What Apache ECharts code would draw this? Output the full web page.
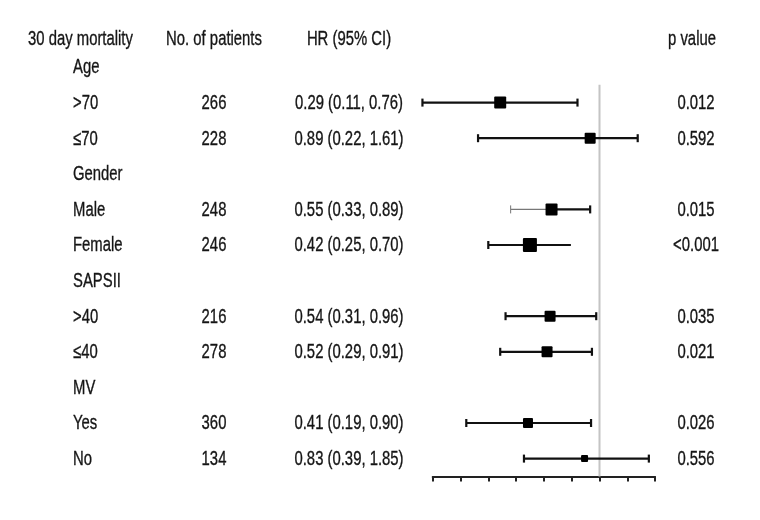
<!DOCTYPE html>
<html>
<head>
<meta charset="utf-8">
<script src="https://cdn.jsdelivr.net/npm/echarts@6/dist/echarts.min.js"></script>
<style>html,body{margin:0;padding:0;background:#fff}#chart{width:760px;height:520px}</style>
</head>
<body>
<div id="chart"></div>
<script>
const headers = ['30 day mortality', 'No. of patients', 'HR (95% CI)', 'p value'];
const groups = ['Age', '>70', '≤70', 'Gender', 'Male', 'Female', 'SAPSII', '>40', '≤40', 'MV', 'Yes', 'No'];
const patients = ['', '266', '228', '', '248', '246', '', '216', '278', '', '360', '134'];
const hr =    [null, 0.29, 0.89, null, 0.55, 0.42, null, 0.54, 0.52, null, 0.41, 0.83];
const lower = [null, 0.11, 0.22, null, 0.33, 0.25, null, 0.31, 0.29, null, 0.19, 0.39];
const upper = [null, 0.76, 1.61, null, 0.89, 0.70, null, 0.96, 0.91, null, 0.90, 1.85];
const pValues = ['', '0.012', '0.592', '', '0.015', '<0.001', '', '0.035', '0.021', '', '0.026', '0.556'];
const refValue = 1;

// styling (box sizes in px for each row)
const boxSize = [0, 12, 11, 0, 12, 14, 0, 11, 11, 0, 10, 7];
const FONT = "'Liberation Sans', Arial, sans-serif";
const FS = 20.5;
const SX = 0.725; // horizontal condensing of the text
const TXT = '#151515';

const chart = echarts.init(document.getElementById('chart'), null, {renderer: 'canvas'});

const ciData = [];
groups.forEach((g, i) => { if (hr[i] != null) ciData.push([lower[i], upper[i], hr[i], i + 0.5, i]); });
const textData = groups.map((g, i) => [refValue, i + 0.5, i]);
const HEADER_ROW = -0.3;

function fmt(v) { return v.toFixed(2); }

const colX = {first: 28, label: 73, patients: 214, hr: 349, p: 696, pHead: 692};

const option = {
  animation: false,
  backgroundColor: '#fff',
  grid: {left: 432.7, right: 104.9, top: 49.2, bottom: 43.6},
  xAxis: {
    type: 'log', logBase: 2, min: 0.125, max: 2, interval: 0.5,
    axisLine: {show: true, onZero: false, lineStyle: {color: '#222', width: 2}},
    axisTick: {show: true, inside: false, length: 5, lineStyle: {color: '#222', width: 2}},
    axisLabel: {show: false},
    splitLine: {show: false}
  },
  yAxis: {type: 'value', min: 0, max: 12, inverse: true, show: false},
  series: [
    {
      type: 'custom', name: 'ref', clip: false, silent: true,
      data: [[refValue, 1, 12]],
      encode: {x: 0, y: [1, 2]},
      renderItem: (params, api) => {
        const a = api.coord([api.value(0), api.value(1)]);
        const b = api.coord([api.value(0), api.value(2)]);
        return {type: 'line', shape: {x1: a[0], y1: a[1], x2: b[0], y2: b[1]}, style: {stroke: '#c4c4c4', lineWidth: 2}};
      },
      z: 1
    },
    {
      type: 'custom', name: 'ci', clip: false, silent: true,
      data: ciData,
      encode: {x: [0, 1, 2], y: 3},
      renderItem: (params, api) => {
        const y = api.value(3);
        const idx = api.value(4);
        const lo = api.coord([api.value(0), y]);
        const hi = api.coord([api.value(1), y]);
        const mid = api.coord([api.value(2), y]);
        const s = boxSize[idx];
        const cap = 4;
        const name = groups[idx];
        const leftThin = name === 'Male';
        const noRightCap = name === 'Female';
        const lw = 2.2;
        const children = [
          {type: 'line', shape: {x1: lo[0], y1: lo[1], x2: mid[0], y2: mid[1]},
            style: {stroke: leftThin ? '#777' : '#111', lineWidth: leftThin ? 1.2 : lw}},
          {type: 'line', shape: {x1: mid[0], y1: mid[1], x2: hi[0], y2: hi[1]},
            style: {stroke: '#111', lineWidth: lw}},
          {type: 'line', shape: {x1: lo[0], y1: lo[1] - cap, x2: lo[0], y2: lo[1] + cap},
            style: {stroke: leftThin ? '#888' : '#111', lineWidth: leftThin ? 1.2 : lw}},
          {type: 'rect', shape: {x: mid[0] - s / 2, y: mid[1] - s / 2, width: s, height: s, r: 1},
            style: {fill: '#000'}}
        ];
        if (!noRightCap) {
          children.push({type: 'line', shape: {x1: hi[0], y1: hi[1] - cap, x2: hi[0], y2: hi[1] + cap},
            style: {stroke: '#111', lineWidth: lw}});
        }
        return {type: 'group', children};
      },
      z: 3
    },
    {
      type: 'custom', name: 'text', clip: false, silent: true,
      data: textData.concat([[refValue, HEADER_ROW, -1]]),
      encode: {x: 0, y: 1},
      renderItem: (params, api) => {
        const idx = api.value(2);
        const y = api.coord([api.value(0), api.value(1)])[1] + 0.8;
        const font = FS + 'px ' + FONT;
        const t = (text, x, align) => ({type: 'text', x: x, y: y, scaleX: SX,
          style: {text: text, font: font, fill: TXT, stroke: TXT, lineWidth: 0.35, align: align, verticalAlign: 'middle'}});
        if (idx < 0) {
          return {type: 'group', children: [
            t(headers[0], colX.first, 'left'),
            t(headers[1], colX.patients, 'center'),
            t(headers[2], colX.hr, 'center'),
            t(headers[3], colX.pHead, 'center')
          ]};
        }
        const children = [t(groups[idx], colX.label, 'left')];
        if (patients[idx]) children.push(t(patients[idx], colX.patients, 'center'));
        if (hr[idx] != null) children.push(t(fmt(hr[idx]) + ' (' + fmt(lower[idx]) + ', ' + fmt(upper[idx]) + ')', colX.hr, 'center'));
        if (pValues[idx]) children.push(t(pValues[idx], colX.p, 'center'));
        return {type: 'group', children};
      },
      z: 4
    }
  ]
};
chart.setOption(option);
</script>
</body>
</html>
